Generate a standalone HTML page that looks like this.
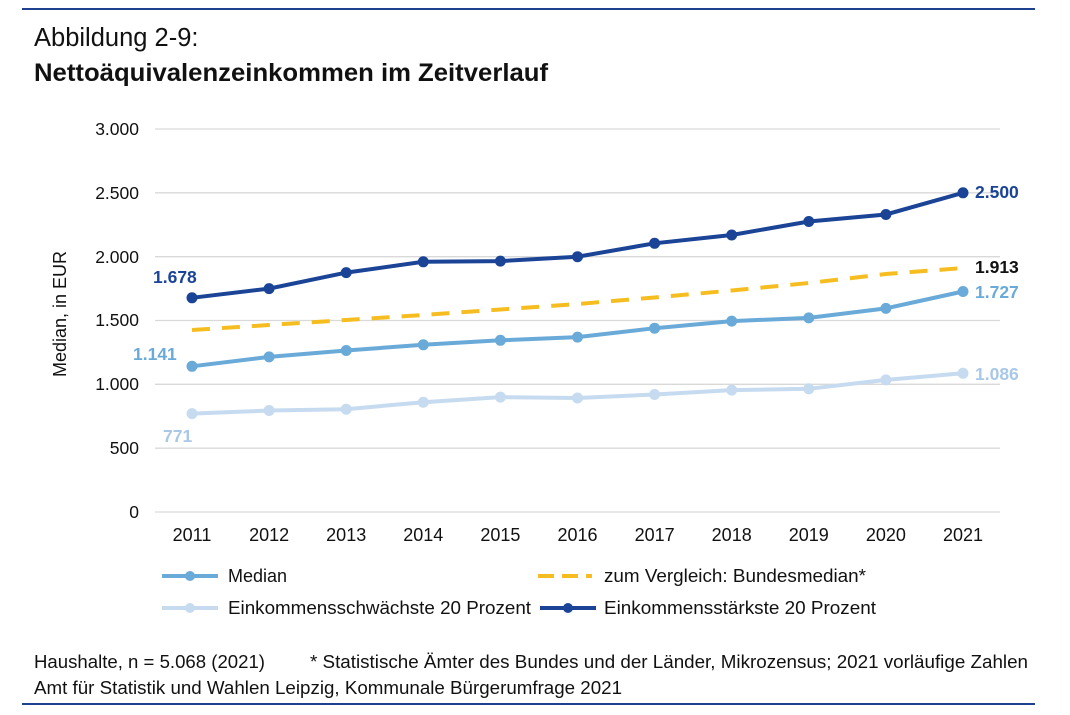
<!DOCTYPE html>
<html><head><meta charset="utf-8"><style>
html,body{margin:0;padding:0;background:#fff;}
svg{display:block;font-family:"Liberation Sans",Arial,sans-serif;}
</style></head><body>
<svg width="1070" height="715" viewBox="0 0 1070 715">
<line x1="22" y1="9" x2="1035" y2="9" stroke="#1f3f8f" stroke-width="2"/>
<line x1="22" y1="704" x2="1035" y2="704" stroke="#1f3f8f" stroke-width="2"/>
<text x="34" y="46" font-size="25.5" fill="#111">Abbildung 2-9:</text>
<text x="34" y="81" font-size="25" font-weight="bold" fill="#111" textLength="514" lengthAdjust="spacingAndGlyphs">Nettoäquivalenzeinkommen im Zeitverlauf</text>
<g stroke="#d9d9d9" stroke-width="1.3">
<line x1="155" y1="129" x2="1000" y2="129"/>
<line x1="155" y1="192.8" x2="1000" y2="192.8"/>
<line x1="155" y1="256.7" x2="1000" y2="256.7"/>
<line x1="155" y1="320.5" x2="1000" y2="320.5"/>
<line x1="155" y1="384.3" x2="1000" y2="384.3"/>
<line x1="155" y1="448.2" x2="1000" y2="448.2"/>
<line x1="155" y1="512" x2="1000" y2="512"/>
</g>
<g font-size="17.5" fill="#111" text-anchor="end">
<text x="139" y="135">3.000</text>
<text x="139" y="199">2.500</text>
<text x="139" y="263">2.000</text>
<text x="139" y="326">1.500</text>
<text x="139" y="390">1.000</text>
<text x="139" y="454">500</text>
<text x="139" y="518">0</text>
</g>
<text transform="translate(66,314) rotate(-90)" font-size="18" fill="#111" text-anchor="middle">Median, in EUR</text>
<g font-size="18" fill="#111" text-anchor="middle">
<text x="192" y="541">2011</text><text x="269.1" y="541">2012</text><text x="346.2" y="541">2013</text><text x="423.3" y="541">2014</text><text x="500.4" y="541">2015</text><text x="577.5" y="541">2016</text><text x="654.6" y="541">2017</text><text x="731.7" y="541">2018</text><text x="808.8" y="541">2019</text><text x="885.9" y="541">2020</text><text x="963" y="541">2021</text>
</g>
<polyline fill="none" stroke="#f5bd1f" stroke-width="4" stroke-dasharray="18,12" points="192,330 269.1,325 346.2,320 423.3,315 500.4,309.5 577.5,304 654.6,297.5 731.7,290.5 808.8,283 885.9,274 963,268"/>
<g fill="#c6dbf0" stroke="#c6dbf0">
<polyline fill="none" stroke-width="4" points="192,413.6 269.1,410.5 346.2,409.2 423.3,402.2 500.4,397.1 577.5,398 654.6,394.5 731.7,390.1 808.8,388.8 885.9,379.9 963,373.3"/>
<circle cx="192" cy="413.6" r="5"/><circle cx="269.1" cy="410.5" r="5"/><circle cx="346.2" cy="409.2" r="5"/><circle cx="423.3" cy="402.2" r="5"/><circle cx="500.4" cy="397.1" r="5"/><circle cx="577.5" cy="398" r="5"/><circle cx="654.6" cy="394.5" r="5"/><circle cx="731.7" cy="390.1" r="5"/><circle cx="808.8" cy="388.8" r="5"/><circle cx="885.9" cy="379.9" r="5"/><circle cx="963" cy="373.3" r="5"/>
</g>
<g fill="#6aaad8" stroke="#6aaad8">
<polyline fill="none" stroke-width="4" points="192,366.3 269.1,356.9 346.2,350.5 423.3,344.8 500.4,340.3 577.5,337.1 654.6,328.2 731.7,321.1 808.8,317.9 885.9,308.4 963,291.5"/>
<circle cx="192" cy="366.3" r="5"/><circle cx="269.1" cy="356.9" r="5"/><circle cx="346.2" cy="350.5" r="5"/><circle cx="423.3" cy="344.8" r="5"/><circle cx="500.4" cy="340.3" r="5"/><circle cx="577.5" cy="337.1" r="5"/><circle cx="654.6" cy="328.2" r="5"/><circle cx="731.7" cy="321.1" r="5"/><circle cx="808.8" cy="317.9" r="5"/><circle cx="885.9" cy="308.4" r="5"/><circle cx="963" cy="291.5" r="5"/>
</g>
<g fill="#1b4496" stroke="#1b4496">
<polyline fill="none" stroke-width="4" points="192,297.8 269.1,288.6 346.2,272.6 423.3,261.8 500.4,261.1 577.5,256.7 654.6,243.3 731.7,235 808.8,221.5 885.9,214.5 963,192.8"/>
<circle cx="192" cy="297.8" r="5"/><circle cx="269.1" cy="288.6" r="5"/><circle cx="346.2" cy="272.6" r="5"/><circle cx="423.3" cy="261.8" r="5"/><circle cx="500.4" cy="261.1" r="5"/><circle cx="577.5" cy="256.7" r="5"/><circle cx="654.6" cy="243.3" r="5"/><circle cx="731.7" cy="235" r="5"/><circle cx="808.8" cy="221.5" r="5"/><circle cx="885.9" cy="214.5" r="5"/><circle cx="963" cy="192.8" r="5"/>
</g>
<g font-size="17.5" font-weight="bold">
<text x="153" y="283" fill="#1b4496">1.678</text>
<text x="133" y="360" fill="#6aaad8">1.141</text>
<text x="163" y="442" fill="#a9c8e8">771</text>
<text x="975" y="198" fill="#1b4496">2.500</text>
<text x="975" y="273" fill="#111">1.913</text>
<text x="975" y="298" fill="#6aaad8">1.727</text>
<text x="975" y="380" fill="#a9c8e8">1.086</text>
</g>
<g font-size="18" fill="#111">
<line x1="162" y1="576" x2="218" y2="576" stroke="#6aaad8" stroke-width="4"/><circle cx="190" cy="576" r="5" fill="#6aaad8"/>
<text x="228" y="582">Median</text>
<line x1="538" y1="576" x2="592" y2="576" stroke="#f5bd1f" stroke-width="4" stroke-dasharray="16,8"/>
<text x="604" y="582" textLength="262" lengthAdjust="spacingAndGlyphs">zum Vergleich: Bundesmedian*</text>
<line x1="162" y1="608" x2="218" y2="608" stroke="#c6dbf0" stroke-width="4"/><circle cx="190" cy="608" r="5" fill="#c6dbf0"/>
<text x="228" y="614" textLength="303" lengthAdjust="spacingAndGlyphs">Einkommensschwächste 20 Prozent</text>
<line x1="540" y1="608" x2="596" y2="608" stroke="#1b4496" stroke-width="4"/><circle cx="568" cy="608" r="5" fill="#1b4496"/>
<text x="604" y="614" textLength="272" lengthAdjust="spacingAndGlyphs">Einkommensstärkste 20 Prozent</text>
</g>
<g font-size="18" fill="#111">
<text x="34" y="668" textLength="231" lengthAdjust="spacingAndGlyphs">Haushalte, n = 5.068 (2021)</text>
<text x="310" y="668" textLength="718" lengthAdjust="spacingAndGlyphs">* Statistische Ämter des Bundes und der Länder, Mikrozensus; 2021 vorläufige Zahlen</text>
<text x="34" y="694" textLength="588" lengthAdjust="spacingAndGlyphs">Amt für Statistik und Wahlen Leipzig, Kommunale Bürgerumfrage 2021</text>
</g>
</svg>
</body></html>
